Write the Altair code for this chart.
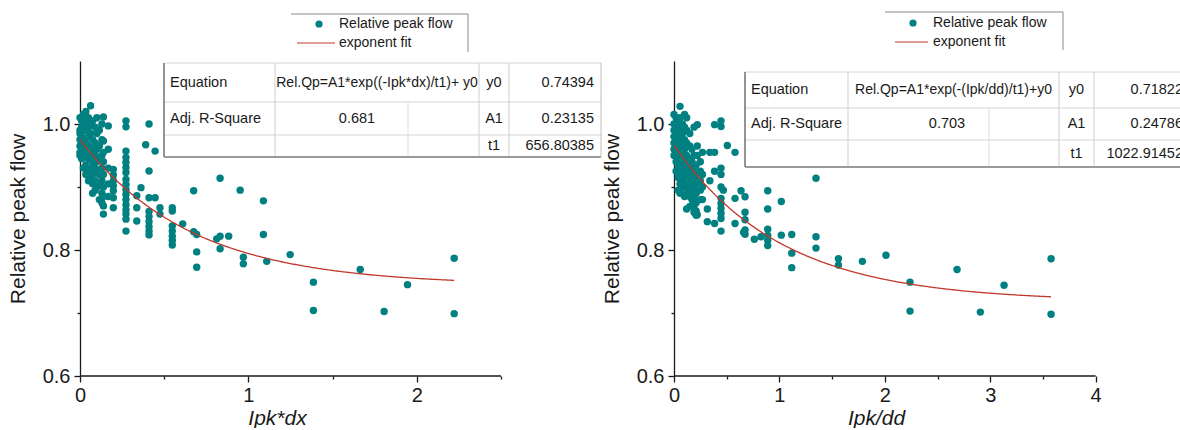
import altair as alt
import numpy as np
import pandas as pd

FONT = "Liberation Sans"
TEAL = "#008080"
FIT_RED = "#c0392b"
INK = "#1a1a1a"

# ---- Relative peak flow against Ipk*dx (x in thousands) ----
ipk_dx = [
    0.0, 0.0, 0.0, 0.0, 0.0, 0.0, 0.0,
    0.01, 0.01, 0.01, 0.01, 0.01, 0.01,
    0.02, 0.02, 0.02, 0.02, 0.02, 0.02, 0.02,
    0.035, 0.035, 0.035, 0.035, 0.035, 0.035, 0.035,
    0.05, 0.05, 0.05, 0.05, 0.05, 0.05, 0.05,
    0.063, 0.063, 0.063, 0.063, 0.063, 0.063,
    0.075, 0.075, 0.075, 0.075, 0.075, 0.075, 0.075,
    0.09, 0.09, 0.09, 0.09, 0.09, 0.09,
    0.1, 0.1, 0.1, 0.1, 0.1, 0.1,
    0.115, 0.115, 0.115, 0.115, 0.115, 0.115,
    0.13, 0.13, 0.13, 0.13, 0.13, 0.13, 0.13,
    0.139, 0.139, 0.139, 0.139, 0.139, 0.139, 0.139, 0.139, 0.139,
    0.168, 0.168, 0.168, 0.168, 0.168,
    0.198, 0.198, 0.198, 0.198, 0.198, 0.198, 0.198,
    0.273, 0.273, 0.273, 0.273, 0.273, 0.273, 0.273, 0.273, 0.273,
    0.273, 0.273, 0.273, 0.273, 0.273, 0.273, 0.273, 0.273,
    0.337, 0.337, 0.337,
    0.362, 0.39,
    0.41, 0.41, 0.41, 0.41, 0.41, 0.41, 0.41, 0.41, 0.41,
    0.446, 0.446,
    0.475, 0.475,
    0.548, 0.548, 0.548, 0.548, 0.548, 0.548, 0.548,
    0.61,
    0.675, 0.675,
    0.693, 0.693, 0.693,
    0.812,
    0.832, 0.832, 0.832,
    0.883, 0.951, 0.97, 0.97,
    1.089, 1.089, 1.109, 1.248, 1.386, 1.386, 1.664, 1.806, 1.945, 2.222, 2.222,
]
rel_qp_dx = [
    1.01, 0.99, 0.985, 0.975, 0.965, 0.955, 0.95,
    1.005, 0.995, 0.98, 0.97, 0.96, 0.945,
    1.015, 1.0, 0.99, 0.975, 0.96, 0.95, 0.93,
    1.02, 1.005, 0.99, 0.97, 0.955, 0.935, 0.92,
    1.01, 0.995, 0.98, 0.965, 0.945, 0.925, 0.91,
    1.029, 1.0, 0.985, 0.95, 0.93, 0.915,
    1.005, 0.975, 0.96, 0.94, 0.92, 0.905, 0.89,
    0.995, 0.97, 0.95, 0.93, 0.91, 0.895,
    1.01, 0.985, 0.96, 0.94, 0.925, 0.9,
    0.99, 0.965, 0.945, 0.92, 0.905, 0.88,
    1.0, 0.975, 0.95, 0.93, 0.91, 0.89, 0.875,
    1.011, 0.973, 0.955, 0.94, 0.92, 0.9, 0.885, 0.87, 0.857,
    0.997, 0.96, 0.93, 0.905, 0.885,
    0.928, 0.919, 0.91, 0.902, 0.894, 0.883, 0.867,
    1.005, 0.9955, 0.957, 0.947, 0.939, 0.931, 0.923, 0.912, 0.904,
    0.896, 0.888, 0.88, 0.872, 0.864, 0.857, 0.849, 0.83,
    0.886, 0.867, 0.846,
    0.899, 0.967,
    1.0, 0.9255, 0.883, 0.861, 0.853, 0.845, 0.837, 0.83, 0.824,
    0.957, 0.883,
    0.867, 0.857,
    0.867, 0.862, 0.838, 0.83, 0.822, 0.815, 0.808,
    0.8415,
    0.894, 0.829,
    0.8245, 0.797, 0.7726,
    0.8177,
    0.914, 0.822, 0.802,
    0.822, 0.895, 0.7885, 0.778,
    0.878, 0.8245, 0.782, 0.7927, 0.749, 0.704, 0.769, 0.7025, 0.745, 0.787, 0.699,
]

# ---- Relative peak flow against Ipk/dd (x in thousands) ----
ipk_dd = [
    0.0, 0.0, 0.0, 0.0, 0.0, 0.0, 0.0,
    0.02, 0.02, 0.02, 0.02, 0.02, 0.02, 0.02,
    0.04, 0.04, 0.04, 0.04, 0.04, 0.04, 0.04, 0.04,
    0.057, 0.057, 0.057, 0.057, 0.057, 0.057, 0.057, 0.057, 0.057, 0.057,
    0.08, 0.08, 0.08, 0.08, 0.08, 0.08, 0.08, 0.08,
    0.1, 0.1, 0.1, 0.1, 0.1, 0.1, 0.1, 0.1, 0.1,
    0.12, 0.12, 0.12, 0.12, 0.12, 0.12, 0.12, 0.12, 0.12,
    0.15, 0.15, 0.15, 0.15, 0.15, 0.15, 0.15, 0.15,
    0.17, 0.17, 0.17, 0.17, 0.17, 0.17, 0.17,
    0.19, 0.19, 0.19, 0.19, 0.19, 0.19, 0.19, 0.19,
    0.21, 0.21, 0.21, 0.21, 0.21, 0.21, 0.21,
    0.221, 0.221, 0.221, 0.221,
    0.25, 0.25, 0.25, 0.25, 0.25,
    0.27, 0.27, 0.27, 0.27,
    0.316, 0.316,
    0.34, 0.34,
    0.385, 0.385, 0.385, 0.385,
    0.446, 0.446, 0.446, 0.446, 0.446, 0.446, 0.446, 0.446, 0.446, 0.446, 0.446,
    0.468, 0.506,
    0.579, 0.579, 0.579,
    0.636, 0.66,
    0.674, 0.674, 0.674, 0.674, 0.674,
    0.762, 0.825,
    0.889, 0.889, 0.889, 0.889, 0.889, 0.889,
    1.018, 1.018,
    1.117, 1.117, 1.117,
    1.347, 1.347, 1.347,
    1.56, 1.56, 1.787, 2.011, 2.239, 2.239, 2.685, 2.906, 3.131, 3.577, 3.577,
]
rel_qp_dd = [
    1.015, 1.0, 0.99, 0.98, 0.97, 0.96, 0.95,
    1.01, 0.995, 0.985, 0.965, 0.955, 0.94, 0.925,
    1.005, 0.99, 0.975, 0.96, 0.945, 0.93, 0.915, 0.895,
    1.028, 1.01, 0.995, 0.98, 0.965, 0.95, 0.935, 0.92, 0.905, 0.89,
    1.0, 0.985, 0.97, 0.955, 0.94, 0.925, 0.91, 0.9,
    1.015, 0.995, 0.975, 0.96, 0.945, 0.93, 0.915, 0.9, 0.885,
    1.01, 0.99, 0.97, 0.95, 0.935, 0.92, 0.905, 0.89, 0.865,
    0.985, 0.965, 0.945, 0.93, 0.915, 0.9, 0.885, 0.869,
    0.96, 0.94, 0.925, 0.91, 0.895, 0.88, 0.87,
    0.995, 0.95, 0.93, 0.915, 0.9, 0.885, 0.87, 0.86,
    0.935, 0.92, 0.905, 0.89, 0.875, 0.862, 0.855,
    0.999, 0.965, 0.95, 0.856,
    0.94, 0.925, 0.91, 0.895, 0.88,
    0.955, 0.92, 0.9, 0.88,
    0.865, 0.845,
    0.955, 0.91,
    0.999, 0.955, 0.925, 0.842,
    1.005, 0.996, 0.93, 0.92, 0.9, 0.882, 0.874, 0.866, 0.858, 0.85, 0.83,
    0.895, 0.966,
    0.955, 0.882, 0.842,
    0.894, 0.828,
    0.8846, 0.86, 0.848, 0.832, 0.825,
    0.817, 0.821,
    0.894, 0.865, 0.833, 0.823, 0.815, 0.807,
    0.877, 0.8236,
    0.8246, 0.795, 0.772,
    0.914, 0.821, 0.803,
    0.786, 0.776, 0.782, 0.7917, 0.749, 0.703, 0.769, 0.7014, 0.744, 0.786, 0.698,
]

# Exponential decay fits: Rel.Qp = A1*exp(-x/t1) + y0
fit_dx = [0.74394, 0.23135, 656.80385]   # y0, A1, t1
fit_dd = [0.71822, 0.24786, 1022.91452]
adj_r2 = [0.681, 0.703]
equations = ["Rel.Qp=A1*exp((-Ipk*dx)/t1)+ y0", "Rel.Qp=A1*exp(-(Ipk/dd)/t1)+y0"]
x_titles = ["Ipk*dx", "Ipk/dd"]
param_names = ["y0", "A1", "t1"]
legend_labels = ["Relative peak flow", "exponent fit"]

ONE = pd.DataFrame({"k": [0]})
TICK_SIZE_X = {"condition": {"test": "datum.value % 1 === 0", "value": 6}, "value": 3}
TICK_SIZE_Y = {"condition": {"test": "round(datum.value * 10) % 2 === 0", "value": 6}, "value": 3}


def rule(x, x2, y, y2=None, color="#c8c8c8", width=1.0, clip=False):
    enc = dict(x=alt.value(x), x2=alt.value(x2), y=alt.value(y))
    if y2 is not None:
        enc["y2"] = alt.value(y2)
    return alt.Chart(ONE).mark_rule(color=color, strokeWidth=width, clip=clip).encode(**enc)


def text(t, x, y, align="left", size=14.5, clip=False):
    return alt.Chart(ONE).mark_text(
        text=t, align=align, baseline="middle", font=FONT, fontSize=size,
        color=INK, clip=clip,
    ).encode(x=alt.value(x), y=alt.value(y))


def fit_table(cols, split, rows, r2_x, val_x, eq, r2, params, right_border, clip):
    c0, c1, c2, c3, c4 = cols
    r0, r1, r2y, r3 = rows
    mid = [(r0 + r1) / 2, (r1 + r2y) / 2, (r2y + r3) / 2]
    layers = [
        alt.Chart(ONE).mark_rect(fill="white", clip=clip).encode(
            x=alt.value(c0), x2=alt.value(c4), y=alt.value(r0), y2=alt.value(r3)),
        rule(c0, c4, r0, color="#d4d4d4", clip=clip),
        rule(c0, c4, r1, color="#d4d4d4", clip=clip),
        rule(c0, c4, r2y, color="#d4d4d4", clip=clip),
        rule(c1, c1, r0, r3, color="#cfcfcf", clip=clip),
        rule(split, split, r1, r3, color="#dcdcdc", clip=clip),
        rule(c2, c2, r0, r3, color="#cfcfcf", clip=clip),
        rule(c3, c3, r0, r3, color="#cfcfcf", clip=clip),
        rule(c0, c0, r0, r3, color="#4d4d4d", width=1.2, clip=clip),
        rule(c0, c4, r3, color="#9a9a9a", width=2, clip=clip),
    ]
    if right_border:
        layers.append(rule(c4, c4, r0, r3, color="#bdbdbd", clip=clip))
    layers += [
        text("Equation", c0 + 6, mid[0], clip=clip),
        text("Adj. R-Square", c0 + 6, mid[1], clip=clip),
        text(eq, (c1 + c2) / 2, mid[0], align="center", size=14, clip=clip),
        text(f"{r2:.3f}", r2_x, mid[1], align="center", clip=clip),
    ]
    for i, (name, val) in enumerate(zip(param_names, params)):
        layers.append(text(name, (c2 + c3) / 2, mid[i], align="center", clip=clip))
        layers.append(text(f"{val:.5f}", val_x, mid[i], align="right", clip=clip))
    return layers


def legend_box(x0, x1, top, bottom, ya, yb, line_x0, line_x1):
    return [
        rule(x0, x1, top, color="#8a8a8a"),
        rule(x1, x1, top, bottom, color="#8a8a8a"),
        alt.Chart(ONE).mark_circle(size=52, color=TEAL, opacity=1).encode(
            x=alt.value(x0 + 28), y=alt.value(ya)),
        rule(line_x0, line_x1, yb, color=FIT_RED, width=1.2),
        text(legend_labels[0], x0 + 48, ya, size=14),
        text(legend_labels[1], x0 + 48, yb, size=14),
    ]


def panel(xs, ys, fit, r2, eq, x_title, x_max, x_end, width, title_x, table, legend):
    y0, a1, t1 = fit
    pts = pd.DataFrame({"x": xs, "y": ys})
    grid = np.linspace(0.0, max(xs), 300)
    curve = pd.DataFrame({"x": grid, "y": y0 + a1 * np.exp(-grid * 1000.0 / t1)})
    axis_line = pd.DataFrame({"x": [0.0], "x2": [x_end], "y": [0.6]})

    x_axis = alt.Axis(
        values=[v / 2 for v in range(int(x_end * 2) + 1)],
        format=".0f", labelExpr="datum.value % 1 === 0 ? datum.label : ''",
        title=x_title, titleFont=FONT, titleFontSize=21, titleFontStyle="italic",
        titleFontWeight="normal", titleColor=INK, titleX=title_x, titlePadding=2,
        labelFont=FONT, labelFontSize=20, labelColor=INK, labelPadding=3,
        labelFlush=False, labelOverlap=False,
        tickColor=INK, tickWidth=1.3, tickSize=TICK_SIZE_X,
        domain=False, grid=False,
    )
    y_axis = alt.Axis(
        values=[0.6, 0.7, 0.8, 0.9, 1.0], format=".1f",
        labelExpr="round(datum.value * 10) % 2 === 0 ? datum.label : ''",
        title="Relative peak flow", titleFont=FONT, titleFontSize=21,
        titleFontWeight="normal", titleColor=INK, titlePadding=14,
        labelFont=FONT, labelFontSize=20, labelColor=INK, labelPadding=4,
        labelFlush=False, labelOverlap=False,
        tickColor=INK, tickWidth=1.3, tickSize=TICK_SIZE_Y,
        domainColor=INK, domainWidth=1.3, grid=False,
    )
    xs_ = alt.Scale(domain=[0, x_max], nice=False, zero=False)
    ys_ = alt.Scale(domain=[0.6, 1.1], nice=False, zero=False)
    x_enc = alt.X("x:Q", scale=xs_, axis=x_axis)
    y_enc = alt.Y("y:Q", scale=ys_, axis=y_axis)

    layers = [
        alt.Chart(pts).mark_circle(size=55, color=TEAL, opacity=1).encode(x=x_enc, y=y_enc),
        alt.Chart(curve).mark_line(color=FIT_RED, strokeWidth=1.3).encode(x=x_enc, y=y_enc),
        alt.Chart(axis_line).mark_rule(color=INK, strokeWidth=1.3).encode(
            x=x_enc, x2="x2:Q", y=y_enc),
    ]
    layers += fit_table(eq=eq, r2=r2, params=fit, **table)
    layers += legend_box(**legend)
    return alt.layer(*layers).properties(width=width, height=315)


left = panel(
    ipk_dx, rel_qp_dx, fit_dx, adj_r2[0], equations[0], x_titles[0],
    x_max=2.5, x_end=2.5, width=421, title_x=197,
    table=dict(cols=[84, 195, 399, 429, 521], split=328, rows=[2, 41, 74, 96],
               r2_x=277, val_x=514, right_border=True, clip=False),
    legend=dict(x0=211, x1=388, top=-47, bottom=-9, ya=-37, yb=-18,
                line_x0=217, line_x1=255),
)
right = panel(
    ipk_dd, rel_qp_dd, fit_dd, adj_r2[1], equations[1], x_titles[1],
    x_max=4.8, x_end=4.0, width=506, title_x=202,
    table=dict(cols=[71, 174, 385, 420, 540], split=315, rows=[11, 47, 79, 106],
               r2_x=273, val_x=509, right_border=False, clip=True),
    legend=dict(x0=211, x1=389, top=-49, bottom=-11, ya=-38, yb=-19,
                line_x0=221, line_x1=254),
)

chart = (
    alt.hconcat(left, right, spacing=173, bounds="flush")
    .properties(padding={"left": 7, "top": 11, "right": 0, "bottom": 0}, background="white")
    .configure_view(stroke=None)
)

chart.save("out.html", embed_options={"renderer": "svg", "actions": False})
